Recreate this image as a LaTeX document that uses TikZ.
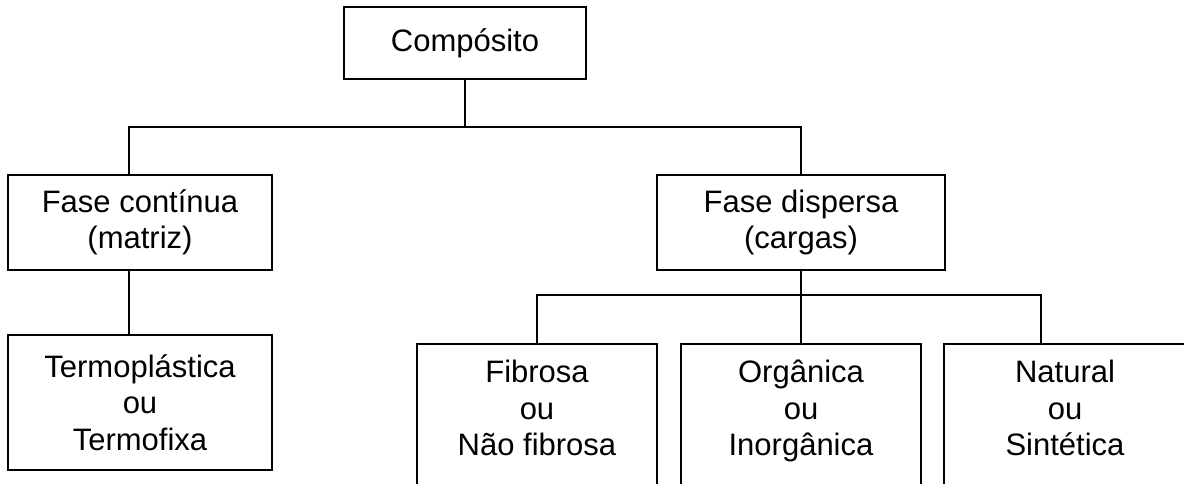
\documentclass[tikz,border=0pt]{standalone}
\usepackage{fontspec}
\setmainfont{Liberation Sans}
\usetikzlibrary{positioning}

\begin{document}
\begin{tikzpicture}[x=1pt,y=-1pt,
		font=\fontsize{31}{36.5}\selectfont,
		box/.style={draw,line width=1.6pt,inner sep=0pt,align=center},
		leaf/.style={box,anchor=north,minimum width=#1,minimum height=170pt},
		leaftext/.style={anchor=north,align=center,inner sep=0pt,yshift=-13.8pt}]
		\clip (0,0) rectangle (1184,484);
		%Level 0
		\node[box,minimum width=242pt,minimum height=72pt] (comp) at (465,43) {Compósito};
		\coordinate (jl) at (129,127);
		\draw[line width=1.6pt] (comp.south)--(comp.south |- jl);
		%Level 1
		\node[box,minimum width=264pt,minimum height=95pt] (cont) at (140,222.5) {Fase contínua\\(matriz)};
		\node[box,minimum width=288pt,minimum height=95pt] (disp) at (801,222.5) {Fase dispersa\\(cargas)};
		\draw[line width=1.6pt] (jl |- cont.north)--(jl)-|(disp.north);
		%Level 2
		\node[box,minimum width=264pt,minimum height=135pt] (term) at (140,402.5) {Termoplástica\\ou\\Termofixa};
		\draw[line width=1.6pt] (jl |- cont.south)--(jl |- term.north);
		\coordinate (jr) at (1041,295);
		\node[leaf=240pt,label={[leaftext]north:{\strut Fibrosa\\ou\\Não fibrosa}}] (fib) at (537,343) {};
		\node[leaf=240pt,label={[leaftext]north:{\strut Orgânica\\ou\\Inorgânica}}] (org) at (801,343) {};
		\node[leaf=242pt,label={[leaftext]north:{\strut Natural\\ou\\Sintética}}] (nat) at (1065,343) {};
		\draw[line width=1.6pt] (disp.south)--(disp.south |- jr);
		\draw[line width=1.6pt] (fib.north)|-(jr)--(jr |- nat.north);
		\draw[line width=1.6pt] (org.north)--(org.north |- jr);
\end{tikzpicture}
\end{document}
